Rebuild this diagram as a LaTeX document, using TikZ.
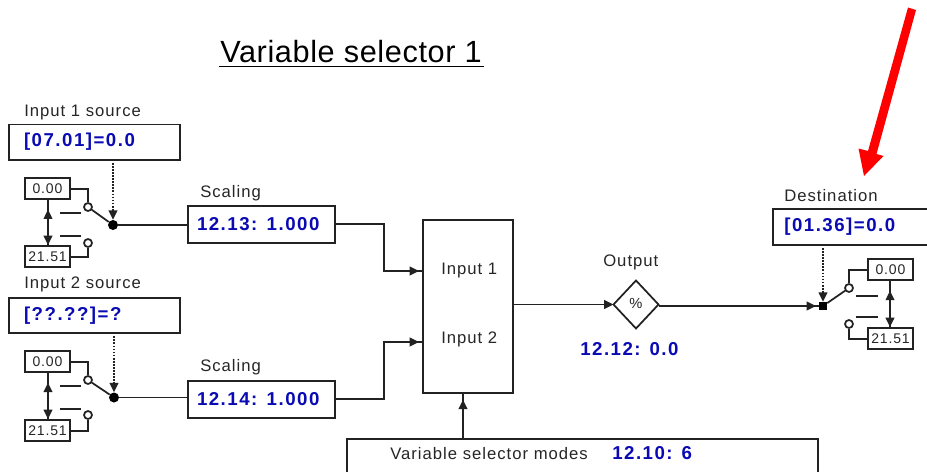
\documentclass[tikz,border=0pt]{standalone}
\usepackage{fontspec}
\setmainfont{Liberation Sans}
\newfontfamily\lblfont[LetterSpace=6]{Liberation Sans}
\newfontfamily\valfont[LetterSpace=8]{Liberation Sans Bold}
\newfontfamily\ttlfont[LetterSpace=2]{Liberation Sans}
\usetikzlibrary{arrows.meta,decorations.markings}
\definecolor{valblue}{HTML}{0A0AB4}
\definecolor{linegrey}{HTML}{222222}
\tikzset{
  x=0.75pt,y=-0.75pt,
  ln/.style={draw=linegrey,line width=1.3pt},
  boxn/.style={ln,anchor=north west,inner sep=0pt,outer sep=0pt,fill=white},
  lbl/.style={anchor=base west,inner sep=0pt,text=black!85,font=\lblfont\fontsize{12.5}{14}\selectfont},
  val/.style={text=valblue,font=\valfont\fontsize{14}{16}\selectfont},
  vallbl/.style={val,anchor=base west,inner sep=0pt},
  srcbox/.style={boxn,val,minimum width=128.25pt,minimum height=26.5pt,text width=105.75pt,align=left,inner xsep=11.25pt,inner ysep=0pt},
  scalebox/.style={boxn,val,minimum width=110.25pt,minimum height=27.5pt,text width=96.75pt,align=left,inner xsep=6.75pt},
  destbox/.style={boxn,val,minimum width=125pt,minimum height=27pt,text width=108pt,align=left,inner xsep=8.25pt},
  small/.style={boxn,minimum width=33.75pt,minimum height=16pt,text=black!85,font=\lblfont\fontsize{10.5}{12}\selectfont},
  contact/.style={circle,ln,fill=white,minimum size=6pt,inner sep=0pt},
  jdot/.style={circle,fill=black,minimum size=7.5pt,inner sep=0pt},
  jsq/.style={rectangle,fill=black,minimum size=6pt,inner sep=0pt},
  arr/.style={ln,-{Triangle[length=7pt,width=6.5pt]}},
  dotarr/.style={ln,densely dotted,-{Triangle[length=7pt,width=6.5pt,sep=0pt]}},
  bidir/.style={ln,postaction={decorate},decoration={markings,
     mark=at position 0.22 with {\arrowreversed{Triangle[length=7pt,width=6.5pt]}},
     mark=at position 0.98 with {\arrow{Triangle[length=7pt,width=6.5pt]}}}},
}
\begin{document}
\begin{tikzpicture}
\useasboundingbox (0,0) rectangle (927,471);
\clip (0,0) rectangle (927,471);
\fill[white] (0,0) rectangle (927,471);

% title
\node[anchor=base west,inner sep=0pt,text=black,font=\ttlfont\fontsize{23}{26}\selectfont] (title) at (220,62) {Variable selector 1};
\draw[ln,draw=black] (title.base west)++(-1,4.5) -- ++(265,0);

% input 1
\node[lbl] (l1) at (24,116) {Input 1 source};
\node[srcbox] (src1) at (9,124.5) {[07.01]=0.0};
\node[small] (a0) at (25,178) {0.00};
\node[small] (a1) at (25,246) {21.51};
\node[contact] (ac0) at (88,207) {};
\node[contact] (ac1) at (88,243) {};
\node[jdot] (aj) at (113,225) {};
\draw[bidir] (a0.south -| 48,0) -- (a1.north -| 48,0);
\draw[ln] (a0.east) -| (ac0.north);
\draw[ln] (a1.east) -| (ac1.south);
\draw[ln] (ac0) -- (aj);
\coordinate (ad0a) at (60,213); \coordinate (ad0b) at (81,213);
\coordinate (ad1a) at (60,236); \coordinate (ad1b) at (81,236);
\draw[ln] (ad0a) -- (ad0b);
\draw[ln] (ad1a) -- (ad1b);
\draw[dotarr] (src1.south -| aj) ++(0,3) -- (aj.north);

% input 2
\node[lbl] (l2) at (24,288) {Input 2 source};
\node[srcbox] (src2) at (9,298) {[??.??]=?};
\node[small] (b0) at (25,351) {0.00};
\node[small] (b1) at (25,420) {21.51};
\node[contact] (bc0) at (88,380) {};
\node[contact] (bc1) at (88,415) {};
\node[jdot] (bj) at (114,397.5) {};
\draw[bidir] (b0.south -| 48,0) -- (b1.north -| 48,0);
\draw[ln] (b0.east) -| (bc0.north);
\draw[ln] (b1.east) -| (bc1.south);
\draw[ln] (bc0) -- (bj);
\coordinate (bd0a) at (60,386); \coordinate (bd0b) at (81,386);
\coordinate (bd1a) at (60,409); \coordinate (bd1b) at (81,409);
\draw[ln] (bd0a) -- (bd0b);
\draw[ln] (bd1a) -- (bd1b);
\draw[dotarr] (src2.south -| bj) ++(0,3) -- (bj.north);

% scaling
\node[lbl] (s1l) at (200,197) {Scaling};
\node[scalebox] (s1) at (188,206) {12.13: 1.000};
\node[lbl] (s2l) at (200,371) {Scaling};
\node[scalebox] (s2) at (188,381) {12.14: 1.000};
\draw[ln] (aj) -- (aj -| s1.west);
\draw[ln] (bj) -- (bj -| s2.west);

% selector
\node[boxn,minimum width=67.5pt,minimum height=129.75pt] (sel) at (423,220) {};
\node[lbl] (i1) at (441,274) {Input 1};
\node[lbl] (i2) at (441,343) {Input 2};
\coordinate (sel1) at (423,271);
\coordinate (sel2) at (423,342);
\coordinate (k1) at (384,271);
\coordinate (k2) at (384,342);
\draw[ln] (s1.east) -| (k1) -- (sel1);
\draw[ln] (s2.east) -| (k2) -- (sel2);
\draw[arr,shorten >=3pt] (k1) -- (sel1);
\draw[arr,shorten >=3pt] (k2) -- (sel2);

% output
\node[lbl] (ol) at (603,266) {Output};
\path (636,280.5) coordinate (dt) (658.5,304.5) coordinate (dr) (636,328.5) coordinate (db) (613.5,304.5) coordinate (dl);
\draw[ln] (dt) -- (dr) -- (db) -- (dl) -- cycle;
\node[inner sep=0pt,text=black!85,font=\fontsize{11}{13}\selectfont] (pct) at (636,303.5) {\%};
\node[vallbl] (ov) at (580,355) {12.12: 0.0};
\draw[arr] (sel.east |- dl) -- (dl);

% destination
\node[lbl] (dl1) at (784,201) {Destination};
\node[destbox] (dst) at (773,209) {[01.36]=0.0};
\node[small] (c0) at (868,259) {0.00};
\node[small] (c1) at (868,328) {21.51};
\node[contact] (cc0) at (849,288) {};
\node[contact] (cc1) at (849,324) {};
\node[jsq] (cj) at (823,306) {};
\draw[bidir] (c0.south -| 890,0) -- (c1.north -| 890,0);
\draw[ln] (c0.west) -| (cc0.north);
\draw[ln] (c1.west) -| (cc1.south);
\draw[ln] (cc0) -- (cj);
\coordinate (cd0a) at (856,296); \coordinate (cd0b) at (878,296);
\coordinate (cd1a) at (856,317); \coordinate (cd1b) at (878,317);
\draw[ln] (cd0a) -- (cd0b);
\draw[ln] (cd1a) -- (cd1b);
\draw[dotarr] (dst.south -| cj) ++(0,3) -- (cj.north);
\draw[ln] (dr |- cj) -- (cj.west);
\draw[arr,shorten >=2pt] (dr |- cj) -- (cj.west);

% modes
\node[boxn,minimum width=353.25pt,minimum height=50pt] (modes) at (347,439) {};
\node[lbl] (ml) at (390,459) {Variable selector modes};
\node[vallbl] (mv) at (612,459) {12.10: 6};
\coordinate (modesout) at (463,439);
\coordinate (selin) at (463,393);
\draw[ln] (modesout) -- (selin);
\draw[arr,shorten >=5pt] (modesout) -- (selin);

% red arrow
\fill[red] (908,7.5) -- (916,10) -- (876.5,154) -- (883.5,156) -- (864,176) -- (858.5,148.5) -- (868,151) -- cycle;
\end{tikzpicture}
\end{document}
